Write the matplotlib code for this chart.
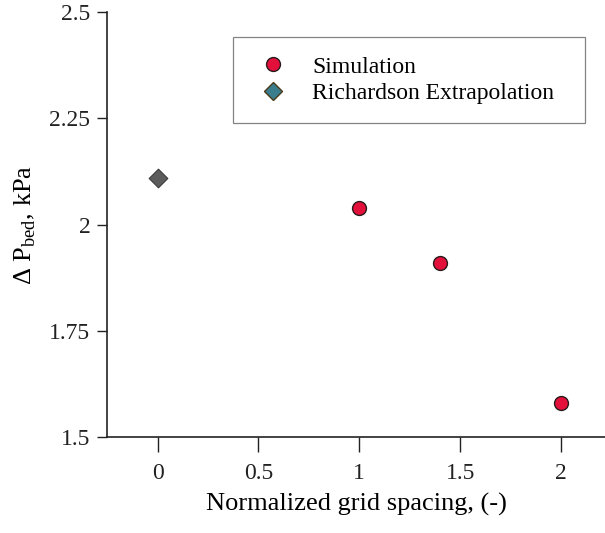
import matplotlib.pyplot as plt
from matplotlib.lines import Line2D

# data
sim_x = [1.0, 1.4, 2.0]
sim_y = [2.04, 1.91, 1.58]
rich_x = [0.0]
rich_y = [2.11]

x_ticks = [0, 0.5, 1, 1.5, 2]
x_tick_labels = ['0', '0.5', '1', '1.5', '2']
y_ticks = [1.5, 1.75, 2.0, 2.25, 2.5]
y_tick_labels = ['1.5', '1.75', '2', '2.25', '2.5']

plt.rcParams['font.family'] = ['Liberation Serif', 'DejaVu Serif']
plt.rcParams['mathtext.fontset'] = 'custom'
plt.rcParams['mathtext.rm'] = 'Liberation Serif'

fig = plt.figure(figsize=(6.05, 5.33), dpi=100)
ax = fig.add_axes([0.177, 0.180, 0.823, 0.797])

ax.scatter(sim_x, sim_y, s=100, color='#e3103c', edgecolor='#2a1a1a',
           linewidth=1.0, zorder=3)
ax.scatter(rich_x, rich_y, s=90, marker='D', color='#5c5c5c',
           edgecolor='#3a3a3a', linewidth=0.8, zorder=3)

ax.set_xlim(-0.25, 2.218)
ax.set_ylim(1.5, 2.5)
ax.set_xticks(x_ticks)
ax.set_xticklabels(x_tick_labels)
ax.set_yticks(y_ticks)
ax.set_yticklabels(y_tick_labels)

for side in ['top', 'right']:
    ax.spines[side].set_visible(False)
for side in ['left', 'bottom']:
    ax.spines[side].set_linewidth(1.2)
    ax.spines[side].set_color('#222222')

ax.tick_params(axis='x', direction='out', length=11, width=1.0,
               labelsize=17, pad=8, colors='#222222')
ax.tick_params(axis='y', direction='out', length=7, width=1.0,
               labelsize=17, pad=5, colors='#222222')

ax.set_xlabel('Normalized grid spacing, (-)', fontsize=19, labelpad=6)
ax.set_ylabel(r'$\Delta$ P$_{\mathrm{bed}}$, kPa', fontsize=19, labelpad=8)

handles = [
    Line2D([], [], marker='o', linestyle='none', markersize=10,
           markerfacecolor='#e3103c', markeredgecolor='#2a1a1a'),
    Line2D([], [], marker='D', linestyle='none', markersize=9,
           markerfacecolor='#3a7d8c', markeredgecolor='#4a3a1a'),
]
leg = ax.legend(handles, ['Simulation', 'Richardson Extrapolation'],
                loc='upper left', bbox_to_anchor=(0.253, 0.751, 0.707, 0.19),
                mode='expand', borderaxespad=0, fontsize=17, frameon=True,
                fancybox=False, borderpad=0.8, labelspacing=0.2,
                handletextpad=0.75, handlelength=1.8)
leg.get_frame().set_edgecolor('#666666')
leg.get_frame().set_linewidth(0.9)

fig.savefig('out.png', dpi=100)
